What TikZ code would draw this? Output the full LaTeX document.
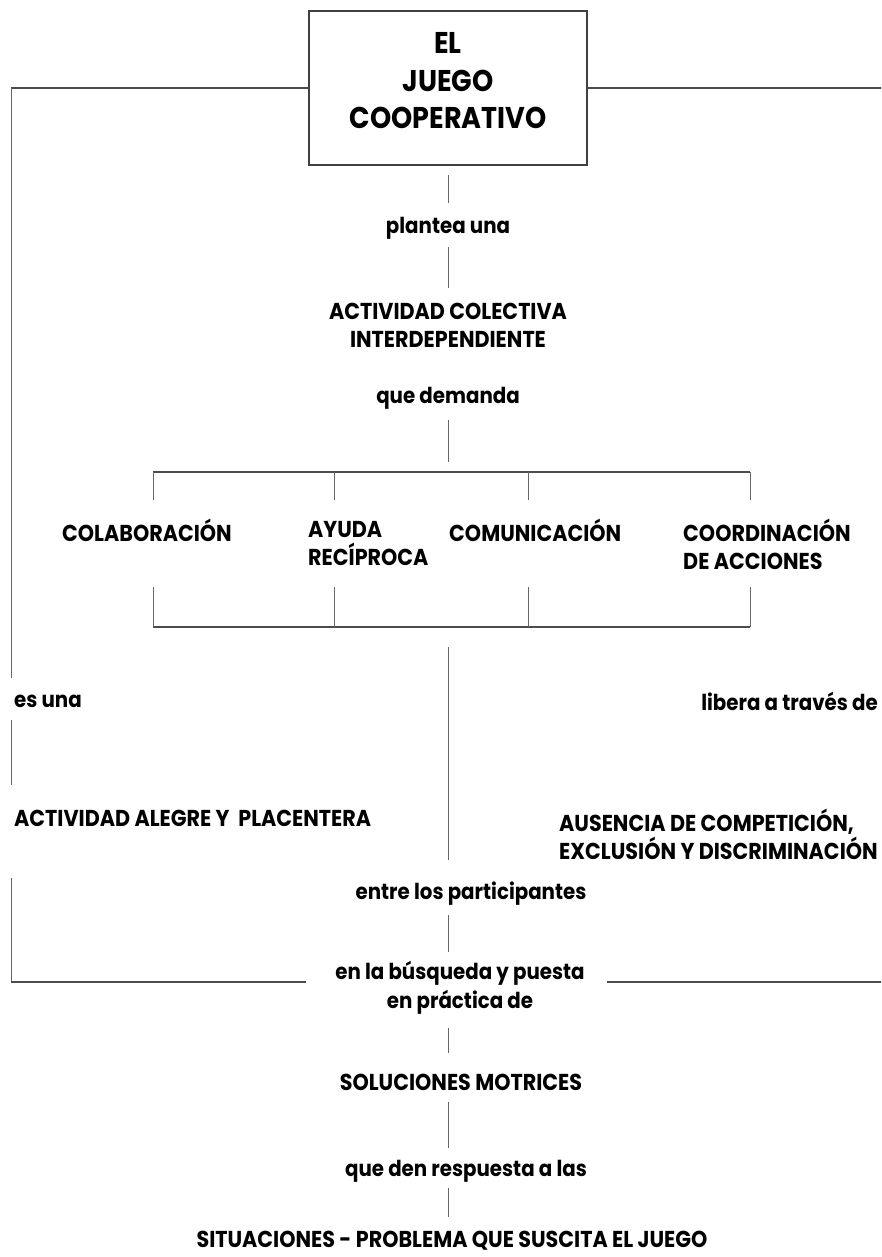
\documentclass[tikz,border=0pt]{standalone}
\usepackage{fontspec}
\setmainfont{Poppins}[FakeStretch=0.9]
\newcommand\labcaps{\bfseries\fontsize{23}{28}\selectfont}
\newcommand\lablow{\bfseries\fontsize{22}{29}\selectfont}
\newcommand\titlefont{\bfseries\fontsize{30}{37.5}\selectfont}
\tikzset{
  hl/.style={draw=black!70, line width=1.8pt},
  vl/.style={draw=black!60, line width=1pt},
  upper/.style={font=\labcaps, inner sep=0pt, text=black},
  lower/.style={font=\lablow, inner sep=0pt, text=black},
  titlebox/.style={draw=black!75, line width=1.8pt, minimum width=278pt, minimum height=154pt, inner sep=0pt}
}
\begin{document}
\begin{tikzpicture}[x=1pt,y=-1pt]
\useasboundingbox (0,0) rectangle (881,1257);
\clip (0,0) rectangle (881,1257);
% title box
\node[titlebox] (box) at (448,88) {};
\node[font=\titlefont, align=center, inner sep=0pt] (title) at (448,81) {EL\\JUEGO\\COOPERATIVO};
% central column
\node[lower] (plantea) at (448,228) {plantea una};
\node[upper, align=center] (actcol) at (448,325) {ACTIVIDAD COLECTIVA\\INTERDEPENDIENTE};
\node[lower] (demanda) at (448,398) {que demanda};
% four items
\node[upper, anchor=west] (colab) at (62,530) {COLABORACIÓN};
\node[upper, anchor=west, align=left] (ayuda) at (308,544) {AYUDA\\RECÍPROCA};
\node[upper, anchor=west] (comun) at (449,530) {COMUNICACIÓN};
\node[upper, anchor=west, align=left] (coord) at (683,544) {COORDINACIÓN\\DE ACCIONES};
% sides
\node[lower, anchor=west] (esuna) at (14,701) {es una};
\node[upper, anchor=west] (alegre) at (14,818) {ACTIVIDAD ALEGRE Y\ \ PLACENTERA};
\node[lower, anchor=east] (libera) at (878,701) {libera a través de};
\node[upper, anchor=west, align=left] (ausencia) at (559,834) {AUSENCIA DE COMPETICIÓN,\\EXCLUSIÓN Y DISCRIMINACIÓN};
% lower column
\node[lower] (entre) at (471,894) {entre los participantes};
\node[lower, align=center] (busqueda) at (460,988) {en la búsqueda y puesta\\en práctica de};
\node[upper] (soluciones) at (461,1082) {SOLUCIONES MOTRICES};
\node[lower] (respuesta) at (466,1171) {que den respuesta a las};
\node[upper] (situaciones) at (452,1241) {SITUACIONES - PROBLEMA QUE SUSCITA EL JUEGO};

% coordinates
\coordinate (L0) at (11,88);
\coordinate (L1) at (11,678);
\coordinate (L2) at (11,720);
\coordinate (L3) at (11,785);
\coordinate (L4) at (11,878);
\coordinate (L5) at (11,982);
\coordinate (L6) at (306,982);
\coordinate (R0) at (890,88);
\coordinate (R5) at (607,982);
\coordinate (R6) at (890,982);
\coordinate (c1) at (448,175);
\coordinate (c2) at (448,203);
\coordinate (c3) at (448,247);
\coordinate (c4) at (448,288);
\coordinate (c5) at (448,420);
\coordinate (c6) at (448,462);
\coordinate (c7) at (448,647);
\coordinate (c8) at (448,860);
\coordinate (c9) at (448,915);
\coordinate (c10) at (448,952);
\coordinate (c11) at (448,1028);
\coordinate (c12) at (448,1053);
\coordinate (c13) at (448,1102);
\coordinate (c14) at (448,1148);
\coordinate (c15) at (448,1188);
\coordinate (c16) at (448,1217);
\coordinate (b1) at (153,472);
\coordinate (b2) at (750,472);
\coordinate (d1) at (153,627);
\coordinate (d2) at (750,627);

% left branch
\draw[hl] (box.west) -- (L0);
\draw[vl] (L0) -- (L1);
\draw[vl] (L2) -- (L3);
\draw[vl] (L4) -- (L5);
\draw[hl] (L5) -- (L6);
% right branch
\draw[hl] (box.east) -- (R0);
\draw[hl] (R5) -- (R6);
% central column
\draw[vl] (c1) -- (c2);
\draw[vl] (c3) -- (c4);
\draw[vl] (c5) -- (c6);
% upper bar with drops
\draw[hl] (b1) -- (b2);
\foreach \x in {153,334,528,750} { \draw[vl] (\x,472) -- (\x,500); }
% lower bar with drops
\draw[hl] (d1) -- (d2);
\foreach \x in {153,334,528,750} { \draw[vl] (\x,587) -- (\x,627); }
\draw[vl] (c7) -- (c8);
\draw[vl] (c9) -- (c10);
\draw[vl] (c11) -- (c12);
\draw[vl] (c13) -- (c14);
\draw[vl] (c15) -- (c16);
\end{tikzpicture}
\end{document}
